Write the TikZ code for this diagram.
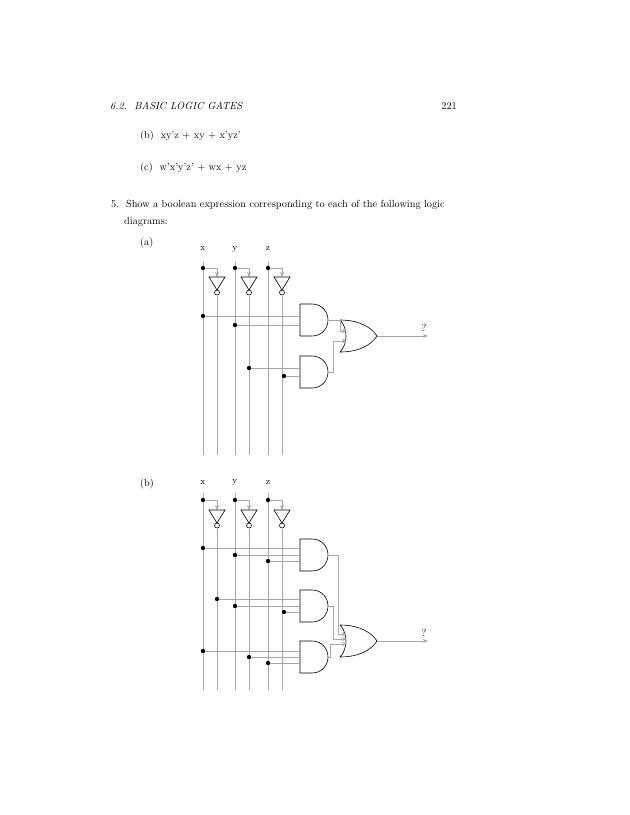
\documentclass[tikz,border=0pt]{standalone}
\usepackage{tikz}
\usetikzlibrary{arrows.meta, calc}

\tikzset{
  wire/.style={gray!70, line width=0.6pt},
  gate/.style={black, line width=0.6pt},
  dot/.style={circle, fill=black, inner sep=0pt, minimum size=4.2pt},
  feed/.style={gray!70, line width=0.6pt, -{Stealth[length=5pt, width=4pt]}},
  txt/.style={anchor=base west, inner sep=0pt},
  pics/andg/.style={code={
    \draw[gate] (0,-16) -- (12,-16) .. controls (22,-16) and (28,-8) .. (28,0)
      .. controls (28,8) and (22,16) .. (12,16) -- (0,16) -- cycle;}},
  pics/org/.style={code={
    \draw[gate] (0,-16) .. controls (20,-16) and (32,-8) .. (37,0)
      .. controls (32,8) and (20,16) .. (0,16) .. controls (8,8) and (8,-8) .. (0,-16);}},
  pics/notg/.style={code={
    \draw[gate] (-8,0) -- (8,0) -- (0,13) -- cycle;
    \draw[gate] (0,15.5) circle (2.5);}}
}

\begin{document}
\begin{tikzpicture}[x=0.973pt, y=-0.973pt]
  \useasboundingbox (0,0) rectangle (630,815);

  % page text
  \node[txt] (hdr) at (110,109) {\textit{6.2.\ \ BASIC LOGIC GATES}};
  \node[txt, anchor=base east] (pg) at (457,109) {221};
  \node[txt] (qb) at (140,138) {(b)\ \ xy'z + xy + x'yz'};
  \node[txt] (qc) at (140,170) {(c)\ \ w'x'y'z' + wx + yz};
  \node[txt] (q5) at (111,207) {5.\ \ Show a boolean expression corresponding to each of the following logic};
  \node[txt] (q5b) at (124,224) {diagrams:};
  \node[txt] (la) at (140,245) {(a)};
  \node[txt] (lb) at (140,486) {(b)};

  % ---------- (a) ----------
  \foreach \v/\X in {x/203, y/235, z/268} {
    \node[inner sep=0pt] (a\v) at (\X,249) {\small\v};
    \coordinate (a\v top) at (\X,262);
    \coordinate (a\v bot) at (\X,455);
    \draw[wire] (a\v top) -- (a\v bot);
    \node[dot] (a\v d) at (\X,268) {};
    \coordinate (a\v n) at (\X+14,277);
    \draw[feed] (a\v d) -| (a\v n);
    \pic at (a\v n) {notg};
    \coordinate (a\v nb) at (\X+14,296);
    \coordinate (a\v ne) at (\X+14,455);
    \draw[wire] (a\v nb) -- (a\v ne);
  }
  \pic at (300,320) {andg};
  \pic at (300,372) {andg};
  \pic at (340,336) {org};
  \node[dot] (ax1) at (203,316) {};
  \node[dot] (ay1) at (235,325) {};
  \coordinate (ag1a) at (300,316);
  \coordinate (ag1b) at (300,325);
  \draw[wire] (ax1) -- (ag1a);
  \draw[wire] (ay1) -- (ag1b);
  \node[dot] (ayn2) at (249,368) {};
  \node[dot] (azn2) at (284,376) {};
  \coordinate (ag2a) at (300,368);
  \coordinate (ag2b) at (300,376);
  \draw[wire] (ayn2) -- (ag2a);
  \draw[wire] (azn2) -- (ag2b);
  \coordinate (ao1) at (328,320);
  \coordinate (ao2) at (328,372);
  \coordinate (aor1) at (347,331);
  \coordinate (aor2) at (347,341);
  \draw[feed] (ao1) -- (340,320) |- (aor1);
  \draw[feed] (ao2) -- (333,372) |- (aor2);
  \coordinate (aout) at (377,336);
  \coordinate (aend) at (428,336);
  \draw[feed] (aout) -- (aend);
  \node[inner sep=0pt] (aq) at (424,328) {?};

  % ---------- (b) ----------
  \foreach \v/\X in {x/203, y/235, z/268} {
    \node[inner sep=0pt] (b\v) at (\X,482) {\small\v};
    \coordinate (b\v top) at (\X,493);
    \coordinate (b\v bot) at (\X,690);
    \draw[wire] (b\v top) -- (b\v bot);
    \node[dot] (b\v d) at (\X,500) {};
    \coordinate (b\v n) at (\X+14,510);
    \draw[feed] (b\v d) -| (b\v n);
    \pic at (b\v n) {notg};
    \coordinate (b\v nb) at (\X+14,529);
    \coordinate (b\v ne) at (\X+14,690);
    \draw[wire] (b\v nb) -- (b\v ne);
  }
  \pic at (300,555) {andg};
  \pic at (300,606) {andg};
  \pic at (300,657) {andg};
  \pic at (340,641) {org};
  % inputs: x, row, gate entry
  \foreach \n/\X/\Y in {1/203/548, 2/235/555, 3/268/561,
                        4/217/599, 5/235/606, 6/284/612,
                        7/203/651, 8/249/657, 9/268/663} {
    \node[dot] (bi\n) at (\X,\Y) {};
    \coordinate (bg\n) at (300,\Y);
    \draw[wire] (bi\n) -- (bg\n);
  }
  \coordinate (bo1) at (328,555);
  \coordinate (bo2) at (328,606);
  \coordinate (bo3) at (328,657);
  \coordinate (bor1) at (347,634);
  \coordinate (bor2) at (347,639);
  \coordinate (bor3) at (347,644);
  \draw[feed] (bo1) -- (338,555) |- (bor1);
  \draw[feed] (bo2) -- (333,606) |- (bor2);
  \draw[feed] (bo3) -- (330,657) |- (bor3);
  \coordinate (bout) at (377,641);
  \coordinate (bend) at (428,641);
  \draw[feed] (bout) -- (bend);
  \node[inner sep=0pt] (bq) at (424,633) {?};
\end{tikzpicture}
\end{document}
